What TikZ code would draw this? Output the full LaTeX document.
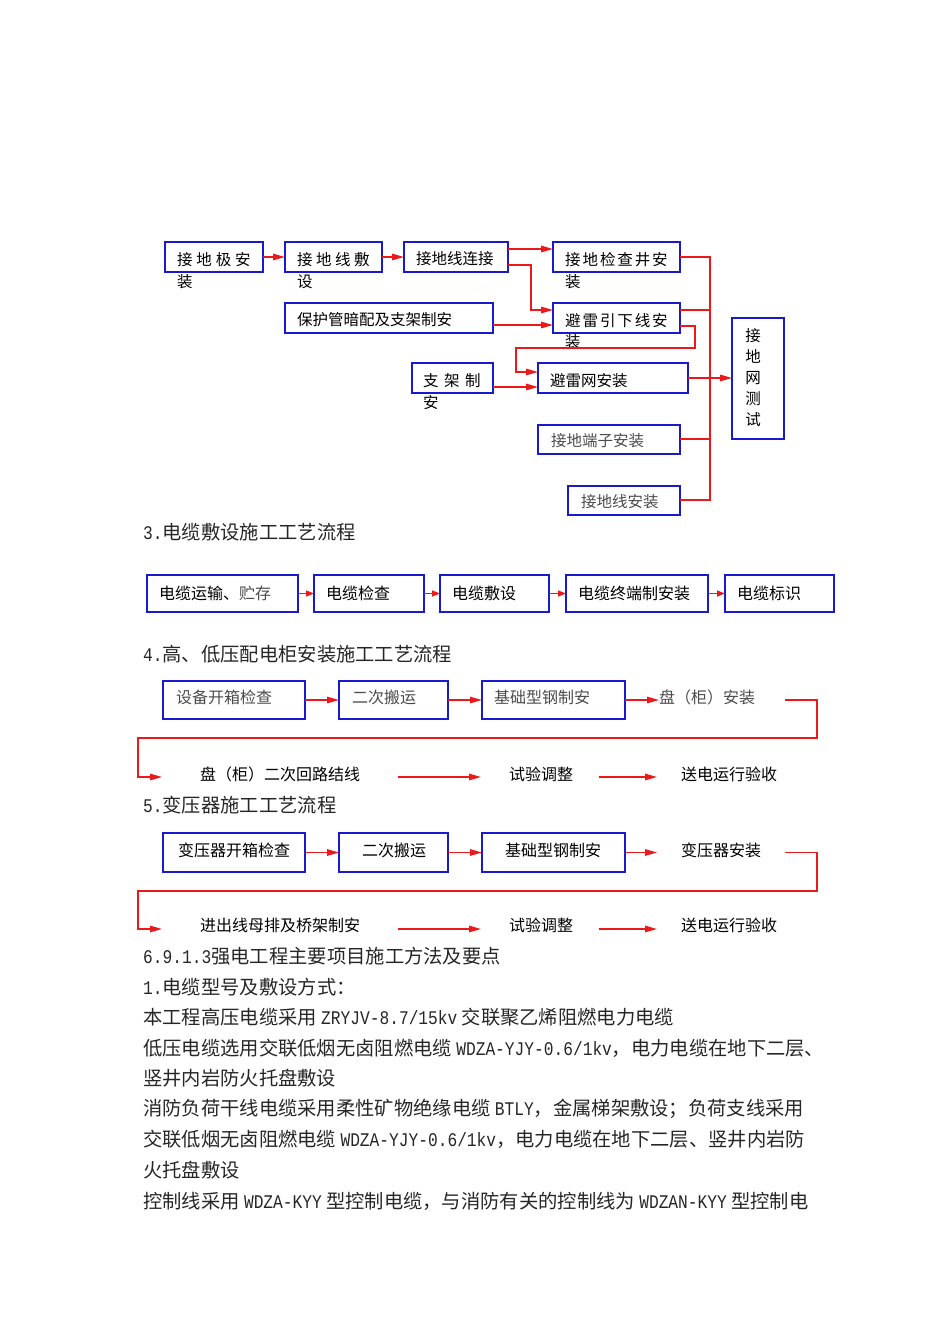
\documentclass[tikz,border=0pt]{standalone}
\usepackage{fontspec}
\setmainfont{Noto Sans CJK SC}
\newfontfamily\lat[FakeStretch=0.84]{Liberation Mono}
\usetikzlibrary{arrows.meta}
\definecolor{bblue}{RGB}{25,25,205}
\definecolor{rred}{RGB}{235,25,25}
\definecolor{tgray}{RGB}{75,75,75}
\newcommand\mygap[1]{\hspace{#1pt}}
\begin{document}
\begin{tikzpicture}[x=1pt,y=-1pt,
 bx/.style={draw=bblue, line width=1.7pt, inner sep=0pt, outer sep=0pt},
 dt/.style={inner sep=0pt, font=\fontsize{15.5}{18}\selectfont, anchor=west},
 bt/.style={inner sep=0pt, font=\fontsize{16}{19}\selectfont, anchor=west},
 ct/.style={inner sep=0pt, font=\fontsize{16}{19}\selectfont},
 body/.style={inner sep=0pt, anchor=west, font=\fontsize{19.3}{22}\selectfont, text=black!85},
 rl/.style={draw=rred, line width=1.4pt},
 arr/.style={rl, -{Triangle[length=12pt,width=6.5pt]}},
 sarr/.style={rl, -{Triangle[length=8pt,width=6pt]}},
]
\useasboundingbox (0,0) rectangle (950,1344);

% ---------- top diagram ----------
\node[bx, minimum width=98pt, minimum height=30pt] (A) at (214,257) {};
\node[bx, minimum width=97pt, minimum height=30pt] (B) at (333.5,257) {};
\node[bx, minimum width=104pt, minimum height=30pt] (C) at (456,257) {};
\node[bx, minimum width=208pt, minimum height=30pt] (D) at (389,318) {};
\node[bx, minimum width=81pt, minimum height=30pt] (E) at (452.5,378) {};
\node[bx, minimum width=127pt, minimum height=30pt] (F) at (616.5,257) {};
\node[bx, minimum width=127pt, minimum height=30pt] (G) at (616.5,318) {};
\node[bx, minimum width=150pt, minimum height=30pt] (H) at (613,378) {};
\node[bx, minimum width=142pt, minimum height=29pt] (I) at (609,439.5) {};
\node[bx, minimum width=112pt, minimum height=29pt] (J) at (624,500.5) {};
\node[bx, minimum width=52pt, minimum height=121pt] (K) at (758,378.5) {};

\node[dt] (At1) at (177,260) {接\mygap{3.8}地\mygap{3.8}极\mygap{3.8}安};
\node[dt] (At2) at (177,282) {装};
\node[dt] (Bt1) at (297,260) {接\mygap{3.5}地\mygap{3.5}线\mygap{3.5}敷};
\node[dt] (Bt2) at (297,282) {设};
\node[dt] (Ct) at (416,259) {接地线连接};
\node[dt] (Dt) at (297,320) {保护管暗配及支架制安};
\node[dt] (Et1) at (423,381) {支\mygap{5.5}架\mygap{5.5}制};
\node[dt] (Et2) at (423,403) {安};
\node[dt] (Ft1) at (565,260) {接\mygap{1.9}地\mygap{1.9}检\mygap{1.9}查\mygap{1.9}井\mygap{1.9}安};
\node[dt] (Ft2) at (565,282) {装};
\node[dt] (Gt1) at (565,321) {避\mygap{1.9}雷\mygap{1.9}引\mygap{1.9}下\mygap{1.9}线\mygap{1.9}安};
\node[dt] (Gt2) at (565,342) {装};
\node[dt] (Ht) at (550,381) {避雷网安装};
\node[dt, text=tgray] (It) at (551,441) {接地端子安装};
\node[dt, text=tgray] (Jt) at (581,502) {接地线安装};
\node[inner sep=0pt, align=center, font=\fontsize{15.5}{21}\selectfont] (Kt) at (753,378) {接\\地\\网\\测\\试};

\draw[arr] (A.east) -- (B.west);
\draw[arr] (B.east) -- (C.west);
\draw[arr] ([yshift=8pt]C.east) -- ([yshift=8pt]F.west);
\draw[arr] ([yshift=-8pt]C.east) -- ++(23,0) |- ([yshift=8pt]G.west);
\draw[arr] ([yshift=-7pt]D.east) -- ([yshift=-7pt]G.west);
\coordinate (gh) at (516,348);
\draw[arr] ([yshift=-8pt]G.east) -- ++(15,0) |- (gh) |- ([yshift=6pt]H.west);
\draw[arr] ([yshift=-9pt]E.east) -- ([yshift=-9pt]H.west);
\coordinate (b1) at (710,257);
\coordinate (b2) at (710,500);
\draw[rl] (F.east) -- (b1) -- (b2) -- ([yshift=0.5pt]J.east);
\draw[rl] ([yshift=8pt]G.east) -- ([yshift=8pt]G.east -| b1);
\draw[rl] ([yshift=0.5pt]I.east) -- ([yshift=0.5pt]I.east -| b1);
\draw[arr] (H.east) -- (H.east -| K.west);

% ---------- section 3 ----------
\node[body] (T3) at (143,532) {{\lat 3.}电缆敷设施工工艺流程};
\node[bx, minimum width=151pt, minimum height=37pt] (S1) at (222.5,593.5) {};
\node[bx, minimum width=110pt, minimum height=37pt] (S2) at (369,593.5) {};
\node[bx, minimum width=109pt, minimum height=37pt] (S3) at (494.5,593.5) {};
\node[bx, minimum width=142pt, minimum height=37pt] (S4) at (637,593.5) {};
\node[bx, minimum width=109pt, minimum height=37pt] (S5) at (779.5,593.5) {};
\node[bt] (S1t) at ([xshift=12pt]S1.west) {电缆运输、{\color{tgray}贮存}};
\node[bt] (S2t) at ([xshift=12pt]S2.west) {电缆检查};
\node[bt] (S3t) at ([xshift=12pt]S3.west) {电缆敷设};
\node[bt] (S4t) at ([xshift=12pt]S4.west) {电缆终端制安装};
\node[bt] (S5t) at ([xshift=12pt]S5.west) {电缆标识};
\draw[sarr] (S1.east) -- (S2.west);
\draw[sarr] (S2.east) -- (S3.west);
\draw[sarr] (S3.east) -- (S4.west);
\draw[sarr] (S4.east) -- (S5.west);

% ---------- section 4 ----------
\node[body] (T4) at (143,654) {{\lat 4.}高、低压配电柜安装施工工艺流程};
\node[bx, minimum width=142pt, minimum height=38pt] (P1) at (234,700) {};
\node[bx, minimum width=109pt, minimum height=38pt] (P2) at (393.5,700) {};
\node[bx, minimum width=143pt, minimum height=38pt] (P3) at (553.5,700) {};
\node[bt, text=tgray] (P1t) at (176,697) {设备开箱检查};
\node[bt, text=tgray] (P2t) at (352,697) {二次搬运};
\node[bt, text=tgray] (P3t) at (494,697) {基础型钢制安};
\node[bt, text=tgray] (P4t) at (659,697) {盘（柜）安装};
\draw[arr] (P1.east) -- (P2.west);
\draw[arr] (P2.east) -- (P3.west);
\draw[arr] (P3.east) -- (P3.east -| P4t.west);
\coordinate (l4a) at (785,700);
\coordinate (l4b) at (817,738);
\coordinate (l4c) at (138,777);
\coordinate (l4d) at (162,777);
\draw[arr] (l4a) -| (l4b) -| (l4c) -- (l4d);
\node[bt] (Q1t) at (200,774) {盘（柜）二次回路结线};
\node[bt] (Q2t) at (509,774) {试验调整};
\node[bt] (Q3t) at (681,774) {送电运行验收};
\coordinate (q1a) at (398,777);
\coordinate (q1b) at (481,777);
\coordinate (q2a) at (599,777);
\coordinate (q2b) at (657,777);
\draw[arr] (q1a) -- (q1b);
\draw[arr] (q2a) -- (q2b);

% ---------- section 5 ----------
\node[body] (T5) at (143,805) {{\lat 5.}变压器施工工艺流程};
\node[bx, minimum width=142pt, minimum height=39pt] (R1) at (234,852.5) {};
\node[bx, minimum width=109pt, minimum height=39pt] (R2) at (393.5,852.5) {};
\node[bx, minimum width=143pt, minimum height=39pt] (R3) at (553.5,852.5) {};
\node[ct] (R1t) at (234,850) {变压器开箱检查};
\node[ct] (R2t) at (394,850) {二次搬运};
\node[ct] (R3t) at (553,850) {基础型钢制安};
\node[bt] (R4t) at (681,850) {变压器安装};
\coordinate (r3e) at (657,852.5);
\draw[arr] (R1.east) -- (R2.west);
\draw[arr] (R2.east) -- (R3.west);
\draw[arr] (R3.east) -- (r3e);
\coordinate (l5a) at (785,852.5);
\coordinate (l5b) at (817,891);
\coordinate (l5c) at (138,929);
\coordinate (l5d) at (162,929);
\draw[arr] (l5a) -| (l5b) -| (l5c) -- (l5d);
\node[bt] (W1t) at (200,925) {进出线母排及桥架制安};
\node[bt] (W2t) at (509,925) {试验调整};
\node[bt] (W3t) at (681,925) {送电运行验收};
\coordinate (w1a) at (398,929);
\coordinate (w1b) at (481,929);
\coordinate (w2a) at (599,929);
\coordinate (w2b) at (657,929);
\draw[arr] (w1a) -- (w1b);
\draw[arr] (w2a) -- (w2b);

% ---------- body text ----------
\node[body] (L1) at (143,956) {{\lat 6.9.1.3}强电工程主要项目施工方法及要点};
\node[body] (L2) at (143,987) {{\lat 1.}电缆型号及敷设方式：};
\node[body] (L3) at (143,1017) {本工程高压电缆采用 {\lat ZRYJV-8.7/15kv} 交联聚乙烯阻燃电力电缆};
\node[body] (L4) at (143,1048) {低压电缆选用交联低烟无卤阻燃电缆 {\lat WDZA-YJY-0.6/1kv}，电力电缆在地下二层、};
\node[body] (L5) at (143,1078) {竖井内岩防火托盘敷设};
\node[body] (L6) at (143,1109) {消防负荷干线电缆采用柔性矿物绝缘电缆 {\lat BTLY}，金属梯架敷设；负荷支线采用};
\node[body] (L7) at (143,1139) {交联低烟无卤阻燃电缆 {\lat WDZA-YJY-0.6/1kv}，电力电缆在地下二层、竖井内岩防};
\node[body] (L8) at (143,1170) {火托盘敷设};
\node[body] (L9) at (143,1201) {控制线采用 {\lat WDZA-KYY} 型控制电缆，与消防有关的控制线为 {\lat WDZAN-KYY} 型控制电};
\end{tikzpicture}
\end{document}
